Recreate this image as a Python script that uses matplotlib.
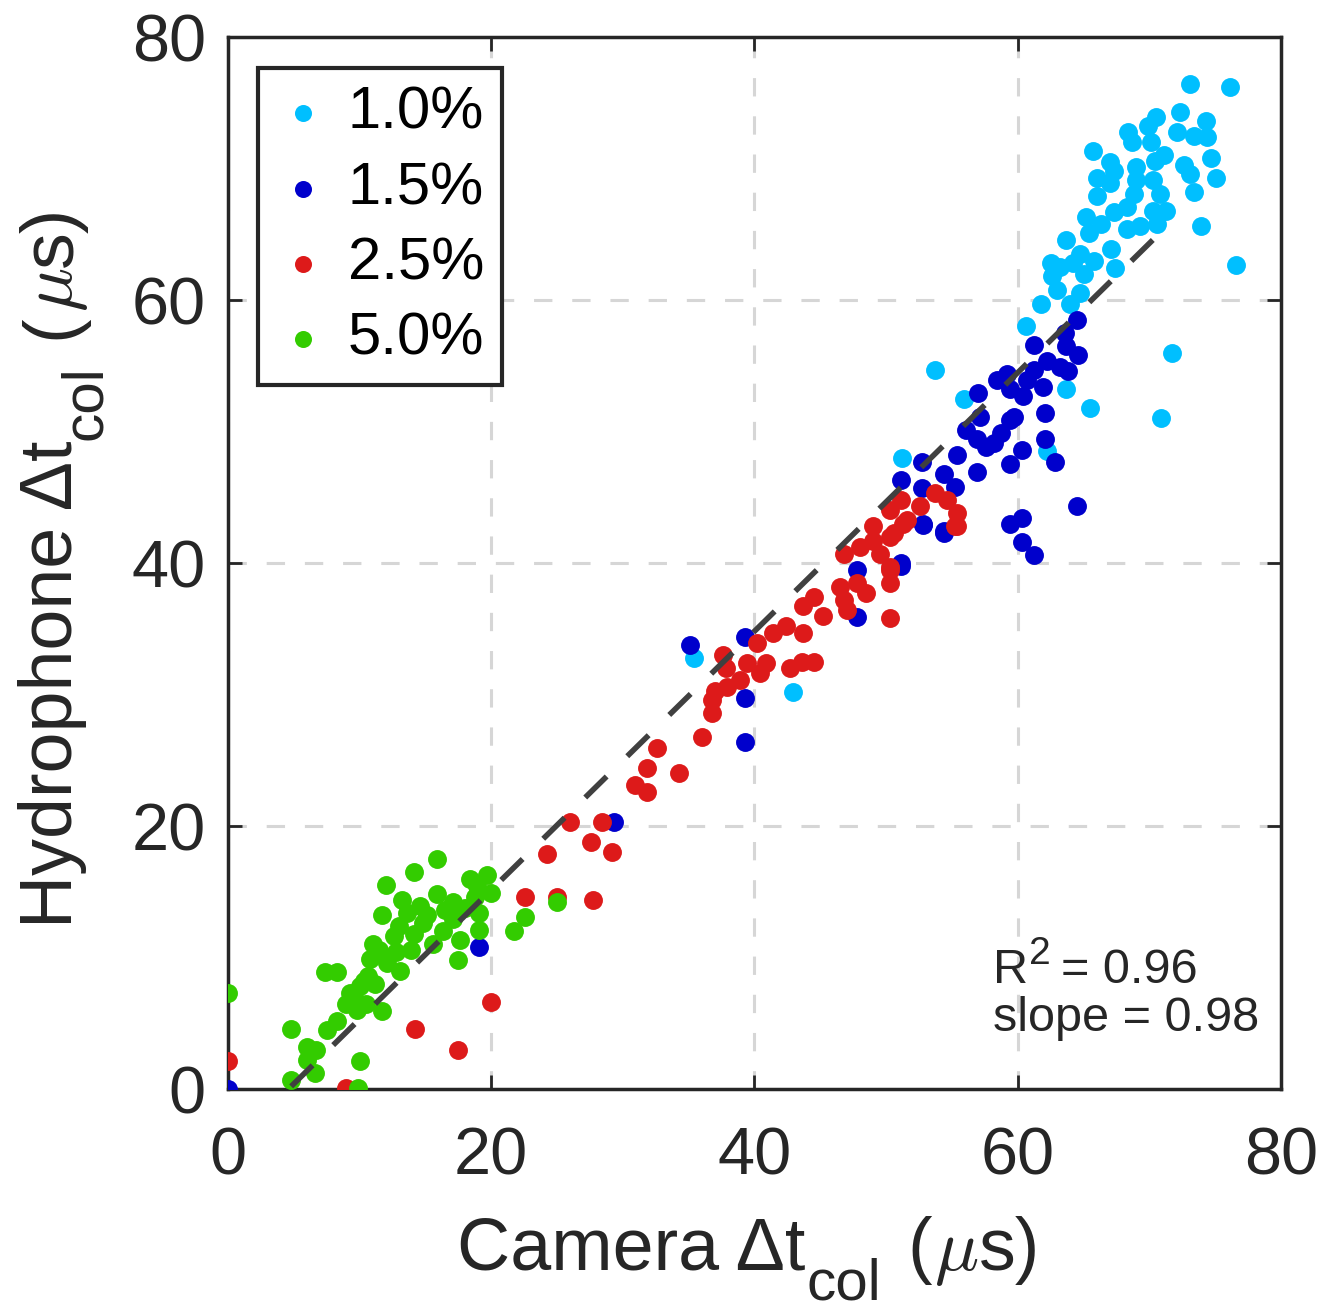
import matplotlib.pyplot as plt
from matplotlib.transforms import IdentityTransform

plt.rcParams['font.family'] = ['Liberation Sans', 'DejaVu Sans']
plt.rcParams['mathtext.fontset'] = 'custom'
plt.rcParams['mathtext.rm'] = 'Liberation Sans'
plt.rcParams['mathtext.it'] = 'Liberation Sans:italic'

# 1.0% (cyan)
x_10 = [73.1, 76.1, 72.3, 70.5, 74.3, 72.1, 73.4, 74.4, 69.9, 68.4, 68.7, 70.1, 65.7, 71.1,
        70.4, 72.6, 73.1, 74.7, 75.1, 67.0, 67.3, 66.0, 67.0, 69.0, 69.0, 70.3, 70.8, 73.4,
        66.0, 68.8, 68.3, 67.3, 65.2, 66.3, 68.3, 69.3, 70.3, 71.3, 70.6, 65.4, 63.7, 67.1,
        64.7, 65.8, 62.5, 63.2, 64.2, 67.4, 62.6, 65.0, 63.0, 64.7, 61.8, 64.0, 73.9, 76.6,
        71.7, 70.9, 65.5, 63.7, 60.6, 55.9, 53.7, 51.2, 62.2, 35.4, 42.9]
y_10 = [76.4, 76.2, 74.3, 73.9, 73.6, 72.8, 72.5, 72.4, 73.2, 72.8, 72.0, 72.0, 71.3, 71.0,
        70.6, 70.3, 69.6, 70.8, 69.3, 70.5, 69.8, 69.3, 68.9, 70.1, 69.1, 69.1, 68.1, 68.2,
        67.9, 68.1, 67.1, 66.7, 66.3, 65.8, 65.4, 65.6, 66.8, 66.8, 65.8, 65.1, 64.6, 63.9,
        63.5, 63.0, 62.8, 62.5, 62.8, 62.4, 61.8, 62.0, 60.8, 60.5, 59.7, 59.7, 65.6, 62.7,
        56.0, 51.0, 51.8, 53.2, 58.0, 52.5, 54.7, 48.0, 48.5, 32.8, 30.2]

# 1.5% (blue)
x_15 = [0.0, 19.1, 29.3, 35.1, 39.3, 39.3, 39.3, 47.8, 47.8, 51.1, 52.8, 54.4,
        51.1, 51.1, 52.7, 52.8, 54.4, 52.7, 54.4, 55.2, 55.4, 56.9, 59.4, 60.3, 62.1, 62.8,
        62.1, 56.1, 56.9, 57.1, 58.2, 58.7, 57.6, 57.0, 58.4, 59.2, 59.4, 59.7, 60.4, 60.7,
        61.2, 61.2, 61.9, 62.2, 63.2, 63.8, 63.7, 64.6, 64.5, 63.6, 59.4, 64.5, 59.4, 60.3,
        60.3, 61.2]
y_15 = [0.0, 10.8, 20.3, 33.8, 34.4, 29.7, 26.4, 39.5, 35.9, 39.8, 42.9, 42.3,
        46.3, 40.0, 45.7, 43.0, 42.4, 47.7, 46.8, 45.8, 48.2, 46.9, 47.5, 48.6, 49.4, 47.7,
        51.4, 50.1, 49.4, 51.1, 49.1, 49.9, 48.8, 52.9, 53.9, 54.4, 53.2, 51.1, 52.7, 53.9,
        54.7, 56.6, 53.4, 55.4, 54.9, 54.6, 56.5, 55.8, 58.5, 57.5, 50.9, 44.3, 43.0, 43.4,
        41.6, 40.6]

# 2.5% (red)
x_25 = [0.0, 9.0, 14.2, 17.5, 20.0, 22.6, 25.0, 24.2, 26.0, 28.4, 27.6, 29.2, 27.7,
        30.9, 31.8, 31.8, 32.6, 34.3, 36.0, 36.8, 36.8, 37.0, 37.9, 37.6, 37.8, 38.9, 39.4,
        40.4, 40.9, 40.2, 41.4, 42.4, 43.7, 42.7, 43.6, 44.5, 43.7, 44.5, 45.2, 46.5, 46.8,
        47.0, 47.8, 48.5, 50.3, 50.3, 50.3, 46.8, 48.0, 49.0, 49.5, 50.6, 51.3, 49.0, 55.2,
        50.3, 51.1, 52.6, 53.7, 54.6, 55.4, 55.4, 50.3, 51.6, 50.3]
y_25 = [2.1, 0.1, 4.6, 3.0, 6.6, 14.6, 14.6, 17.9, 20.3, 20.3, 18.8, 18.0, 14.4,
        23.1, 22.6, 24.4, 25.9, 24.0, 26.8, 28.6, 29.6, 30.3, 30.6, 33.0, 32.0, 31.1, 32.4,
        31.6, 32.4, 33.9, 34.7, 35.2, 34.7, 32.0, 32.5, 32.5, 36.7, 37.4, 36.0, 38.2, 37.2,
        36.4, 38.5, 37.7, 35.8, 38.5, 39.5, 40.7, 41.2, 41.7, 40.7, 42.3, 43.0, 42.8, 42.8,
        44.0, 44.8, 44.3, 45.3, 44.8, 43.8, 42.8, 42.0, 43.3, 39.7]

# 5.0% (green)
x_50 = [15.9, 14.1, 12.0, 18.4, 19.7, 20.0, 13.2, 15.9, 17.1, 11.7, 13.6, 15.1, 17.1,
        19.1, 12.6, 14.1, 15.6, 17.6, 19.1, 17.5, 10.8, 13.1, 12.1, 7.4, 8.3, 9.3, 10.0,
        9.0, 10.5, 11.7, 8.3, 7.5, 4.8, 6.0, 6.7, 6.0, 6.6, 4.8, 10.0, 9.9, 0.0, 22.6, 21.7,
        25.0, 14.6, 16.5, 18.0, 18.8, 13.0, 11.0, 11.5, 10.3, 9.6, 12.8, 14.8, 16.3, 18.9,
        10.6, 11.2, 9.8, 13.9]
y_50 = [17.5, 16.5, 15.5, 16.0, 16.3, 14.9, 14.4, 14.8, 14.2, 13.2, 13.4, 13.2, 12.9,
        13.4, 11.6, 11.8, 11.0, 11.3, 12.1, 9.8, 9.9, 9.0, 9.6, 8.9, 8.9, 7.3, 7.8, 6.5,
        6.5, 5.9, 5.2, 4.5, 4.6, 3.2, 3.0, 2.2, 1.2, 0.7, 2.1, 0.05, 7.3, 13.1, 12.0, 14.2,
        13.9, 13.6, 13.8, 14.6, 12.4, 11.0, 10.6, 8.2, 7.0, 10.4, 12.6, 12.0, 15.4,
        8.6, 8.0, 6.0, 10.6]

# fit line
fit_x = [4.8, 70.6]
fit_y = [0.2, 64.9]

fig = plt.figure(figsize=(13.31, 13.13), dpi=100)
ax = fig.add_axes([0.1713, 0.1706, 0.7911, 0.8012])
renderer = fig.canvas.get_renderer()

ax.grid(True, linestyle=(0, (6, 6.5)), color='#d6d6d6', linewidth=2.2)
ax.set_axisbelow(True)

ms = 185
ax.scatter(x_10, y_10, s=ms, color='#00bfff', label='1.0%', zorder=3, linewidths=0)
ax.scatter(x_15, y_15, s=ms, color='#0000cc', label='1.5%', zorder=3, linewidths=0)
ax.scatter(x_25, y_25, s=ms, color='#dd1a1a', label='2.5%', zorder=3, linewidths=0)
ax.scatter(x_50, y_50, s=ms, color='#33cc00', label='5.0%', zorder=3, linewidths=0)

ax.plot(fit_x, fit_y, linestyle=(0, (5.4, 5.2)), color='#404040', linewidth=4, zorder=4)

ax.set_xlim(0, 80)
ax.set_ylim(0, 80)
ax.set_xticks([0, 20, 40, 60, 80])
ax.set_yticks([0, 20, 40, 60, 80])
ax.tick_params(direction='in', length=10, width=2, labelsize=48,
               top=True, right=True, colors='#262626', labelcolor='#262626')
ax.tick_params(axis='x', pad=27)
ax.tick_params(axis='y', pad=16)
for s in ax.spines.values():
    s.set_linewidth(2.5)
    s.set_color('#262626')

leg = ax.legend(loc='upper left', fontsize=43, handletextpad=0.3, borderpad=0.3,
                labelspacing=0.34, handlelength=0.9, borderaxespad=0,
                fancybox=False, framealpha=1, edgecolor='#262626',
                bbox_to_anchor=(0.0285, 0.9705))
leg.get_frame().set_linewidth(3)
for h in leg.legend_handles:
    h.set_sizes([150])


def pieces_label(pieces, x0, y0, vertical=False):
    # pieces: (text, fontsize, baseline shift in px, gap before in px, extra kw)
    pos = 0
    for txt, size, shift, gap, kw in pieces:
        pos += gap
        if vertical:
            t = fig.text(x0 + shift, y0 + pos, txt, rotation=90, rotation_mode='anchor',
                         ha='left', va='baseline', fontsize=size, color='#262626',
                         transform=IdentityTransform(), **kw)
            pos += t.get_window_extent(renderer).height
        else:
            t = fig.text(x0 + pos, y0 - shift, txt, ha='left', va='baseline',
                         fontsize=size, color='#262626',
                         transform=IdentityTransform(), **kw)
            pos += t.get_window_extent(renderer).width


mu = {'math_fontfamily': 'cm'}
tail = [('col', 42, 29, 1, {}),
        ('(', 53, 0, 26, {}),
        (r'$\mu$', 53, 0, 2, mu),
        ('s)', 53, 0, 1, {})]

pieces_label([('Camera \u0394t', 53, 0, 0, {})] + tail, 457, 43)
pieces_label([('Hydrophone \u0394t', 53, 0, 0, {})] + tail, 72, 385, vertical=True)

# fit statistics
tx, ty1, ty2 = 993, 1313 - 983, 1313 - 1031
pieces_label([('R', 35, 0, 0, {}), ('2', 28, -19, 1, {}), ('= 0.96', 35, 0, 10, {})], tx, ty1)
pieces_label([('slope = 0.98', 35, 0, 0, {})], tx, ty2)

fig.savefig('out.png', dpi=100)
